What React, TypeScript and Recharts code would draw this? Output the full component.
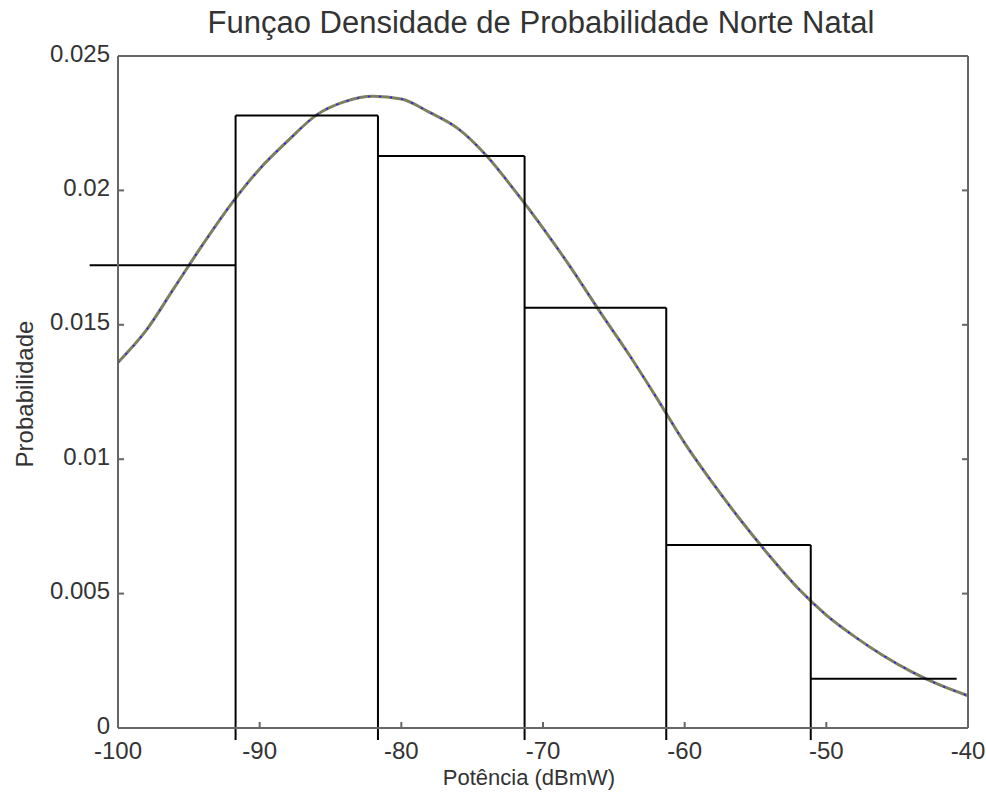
import { ComposedChart, Line, XAxis, YAxis, ReferenceLine } from "recharts";

const xTicks = [-100, -90, -80, -70, -60, -50, -40];
const yTicks = [0, 0.005, 0.01, 0.015, 0.02, 0.025];

// fitted density curve
const pdfX = [
  -100, -98, -96, -94, -92, -90, -88, -86, -84, -82, -80, -78, -76, -74, -72,
  -70, -68, -66, -64, -62, -60, -58, -56, -54, -52, -50, -48, -46, -44, -42, -40,
];
const pdfY = [
  0.0136, 0.0148, 0.0164, 0.018, 0.0195, 0.0208, 0.02185, 0.0228, 0.0233,
  0.0235, 0.0234, 0.0229, 0.0223, 0.0213, 0.02, 0.0186, 0.0171, 0.0155,
  0.01395, 0.0123, 0.0106, 0.0091, 0.0077, 0.0064, 0.0052, 0.0042, 0.0034,
  0.0027, 0.0021, 0.0016, 0.0012,
];

// histogram bins
const binEdges = [-102.0, -91.7, -81.65, -71.3, -61.3, -51.1, -40.8];
const binHeights = [0.01722, 0.02279, 0.02128, 0.01563, 0.00681, 0.00183];
const edgeFoot = -0.00045; // bin edges run a little below the axis

const title = "Funçao Densidade de Probabilidade Norte Natal";
const xLabel = "Potência (dBmW)";
const yLabel = "Probabilidade";

const X_MIN = -100;
const X_MAX = -40;
const Y_MIN = 0;
const Y_MAX = 0.025;

const data = pdfX.map((x, i) => ({ x, pdf: pdfY[i] }));

const binTops = binHeights.map((h, i) => [
  { x: binEdges[i], y: h },
  { x: binEdges[i + 1], y: h },
]);
const binSides = binEdges.slice(1, -1).map((e, i) => [
  { x: e, y: edgeFoot },
  { x: e, y: Math.max(binHeights[i], binHeights[i + 1]) },
]);

const axisColor = "#666";
const textColor = "#333";
const font = "'Liberation Sans', Arial, sans-serif";
const TICK = 6; // inward tick length, px (matlab style)
const X_GAP = 14;
const Y_GAP = 8;

function BottomTick(props: any) {
  const { x, y, payload, index } = props;
  const axisY = y - X_GAP;
  const inner = index > 0 && index < xTicks.length - 1;
  return (
    <g>
      {inner && (
        <line x1={x} x2={x} y1={axisY} y2={axisY - TICK} stroke={axisColor} strokeWidth={2} />
      )}
      <text x={x} y={y} dy="0.71em" textAnchor="middle" fontSize={24} fill={textColor} fontFamily={font}>
        {payload.value}
      </text>
    </g>
  );
}

function TopTick(props: any) {
  const { x, y, index } = props;
  if (index === 0 || index === xTicks.length - 1) return <g />;
  return <line x1={x} x2={x} y1={y} y2={y + TICK} stroke={axisColor} strokeWidth={2} />;
}

function LeftTick(props: any) {
  const { x, y, payload, index } = props;
  const axisX = x + Y_GAP;
  const inner = index > 0 && index < yTicks.length - 1;
  return (
    <g>
      {inner && (
        <line x1={axisX} x2={axisX + TICK} y1={y} y2={y} stroke={axisColor} strokeWidth={2} />
      )}
      <text x={x} y={y - 3} dy="0.355em" textAnchor="end" fontSize={24} fill={textColor} fontFamily={font}>
        {payload.value}
      </text>
    </g>
  );
}

function RightTick(props: any) {
  const { x, y, index } = props;
  if (index === 0 || index === yTicks.length - 1) return <g />;
  return <line x1={x} x2={x - TICK} y1={y} y2={y} stroke={axisColor} strokeWidth={2} />;
}

export default function App() {
  return (
    <div
      style={{
        position: "absolute",
        left: 0,
        top: 0,
        width: 986,
        height: 792,
        background: "#fff",
        fontFamily: font,
      }}
    >
      <ComposedChart
        width={986}
        height={792}
        data={data}
        margin={{ top: 55, right: 17, bottom: 0, left: 0 }}
      >
        <XAxis
          dataKey="x"
          type="number"
          domain={[X_MIN, X_MAX]}
          ticks={xTicks}
          interval={0}
          height={64}
          stroke={axisColor}
          strokeWidth={2}
          tickLine={false}
          tickSize={0}
          tickMargin={X_GAP}
          tick={<BottomTick />}
        />
        <XAxis
          xAxisId="top"
          orientation="top"
          type="number"
          domain={[X_MIN, X_MAX]}
          allowDataOverflow
          ticks={xTicks}
          interval={0}
          height={1}
          stroke={axisColor}
          strokeWidth={2}
          tickLine={false}
          tickSize={0}
          tickMargin={0}
          tick={<TopTick />}
        />
        <YAxis
          type="number"
          domain={[Y_MIN, Y_MAX]}
          ticks={yTicks}
          interval={0}
          width={118}
          stroke={axisColor}
          strokeWidth={2}
          tickLine={false}
          tickSize={0}
          tickMargin={Y_GAP}
          tick={<LeftTick />}
        />
        <YAxis
          yAxisId="right"
          orientation="right"
          type="number"
          domain={[Y_MIN, Y_MAX]}
          allowDataOverflow
          ticks={yTicks}
          interval={0}
          width={1}
          stroke={axisColor}
          strokeWidth={2}
          tickLine={false}
          tickSize={0}
          tickMargin={0}
          tick={<RightTick />}
        />
        <Line
          type="monotone"
          dataKey="pdf"
          stroke="#7e7e60"
          strokeWidth={3}
          dot={false}
          isAnimationActive={false}
        />
        <Line
          type="monotone"
          dataKey="pdf"
          stroke="#1a1aff"
          strokeWidth={1.5}
          strokeDasharray="2 9"
          dot={false}
          isAnimationActive={false}
        />
        {binTops.map((seg, i) => (
          <ReferenceLine
            key={`top-${i}`}
            segment={seg}
            ifOverflow="visible"
            stroke="#000"
            strokeWidth={2}
          />
        ))}
        {binSides.map((seg, i) => (
          <ReferenceLine
            key={`side-${i}`}
            segment={seg}
            ifOverflow="visible"
            stroke="#000"
            strokeWidth={2}
          />
        ))}
        <ReferenceLine
          segment={[
            { x: X_MIN, y: 0.0215 },
            { x: X_MIN, y: 0.024 },
          ]}
          ifOverflow="visible"
          stroke="#9488c8"
          strokeWidth={2}
        />
      </ComposedChart>
      <svg
        width={986}
        height={792}
        style={{ position: "absolute", left: 0, top: 0, pointerEvents: "none" }}
      >
        <text x={541} y={33} textAnchor="middle" fontSize={31} fill={textColor} fontFamily={font}>
          {title}
        </text>
        <text x={529} y={785} textAnchor="middle" fontSize={22} fill={textColor} fontFamily={font}>
          {xLabel}
        </text>
        <text
          transform="translate(33,394) rotate(-90)"
          textAnchor="middle"
          fontSize={24}
          fill={textColor}
          fontFamily={font}
        >
          {yLabel}
        </text>
      </svg>
    </div>
  );
}
